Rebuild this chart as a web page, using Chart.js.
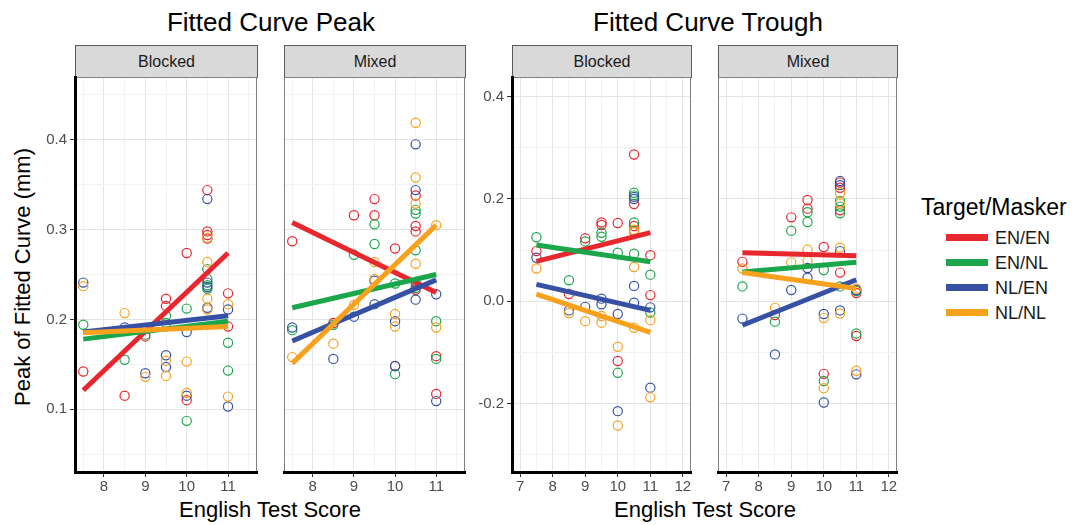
<!DOCTYPE html>
<html><head><meta charset="utf-8">
<script src="https://cdn.jsdelivr.net/npm/chart.js@4.4.1/dist/chart.umd.min.js"></script>
<style>
html,body{margin:0;padding:0;background:#fff;}
#wrap{position:relative;width:1073px;height:525px;overflow:hidden;font-family:"Liberation Sans",Arial,sans-serif;color:#000;}
.t{position:absolute;white-space:nowrap;transform:translate(-50%,-50%);line-height:1;}
.tl{position:absolute;white-space:nowrap;transform:translate(0,-50%);line-height:1;}
.strip{position:absolute;box-sizing:border-box;background:#d9d9d9;border:1px solid #5a5a5a;color:#1a1a1a;font-size:16px;display:flex;align-items:center;justify-content:center;}
.sw{position:absolute;height:7px;width:42px;}
canvas{position:absolute;}
</style></head><body><div id="wrap"></div>
<script>
// ---------- data ----------
const GROUPS = ['EN/EN', 'EN/NL', 'NL/EN', 'NL/NL'];
const STRIPS = ['Blocked', 'Mixed'];
const TITLES = ['Fitted Curve Peak', 'Fitted Curve Trough'];
const X_TITLE = 'English Test Score';
const Y_TITLE = 'Peak of Fitted Curve (mm)';
const LEGEND_TITLE = 'Target/Masker';

const PEAK_X_TICKS = ['8', '9', '10', '11'];
const PEAK_Y_TICKS = ['0.1', '0.2', '0.3', '0.4'];
const TROUGH_X_TICKS = ['7', '8', '9', '10', '11', '12'];
const TROUGH_Y_TICKS = ['-0.2', '0.0', '0.2', '0.4'];

const PEAK_X_RANGE = [7.3, 11.7];
const PEAK_Y_RANGE = [0.03, 0.47];
const TROUGH_X_RANGE = [6.75, 12.25];
const TROUGH_Y_RANGE = [-0.334, 0.4385];

const FIT_X = [7.5, 11];

// Peak, Blocked
const PB_ENEN = [[7.5,.142],[8.5,.115],[9,.181],[9.5,.223],[9.5,.215],[10,.274],[10,.110],[10.5,.344],[10.5,.298],[10.5,.294],[10.5,.290],[11,.229],[11,.192]];
const PB_ENNL = [[7.5,.194],[8.5,.155],[9,.183],[9.5,.204],[9.5,.196],[10,.212],[10,.087],[10.5,.256],[10.5,.245],[10.5,.238],[10.5,.234],[11,.174],[11,.143]];
const PB_NLEN = [[7.5,.241],[8.5,.191],[9,.140],[9.5,.160],[9.5,.147],[10,.186],[10,.115],[10.5,.334],[10.5,.241],[10.5,.236],[10.5,.213],[11,.211],[11,.103]];
const PB_NLNL = [[7.5,.237],[8.5,.207],[9,.136],[9.5,.154],[9.5,.137],[10,.153],[10,.118],[10.5,.291],[10.5,.264],[10.5,.223],[10.5,.211],[11,.217],[11,.114]];
const PB_FIT = [[0.121,0.274],[0.178,0.198],[0.186,0.204],[0.185,0.192]];

// Peak, Mixed
const PM_ENEN = [[7.5,.287],[8.5,.196],[9,.316],[9.5,.334],[9.5,.316],[10,.279],[10,.148],[10.5,.338],[10.5,.304],[10.5,.298],[10.5,.233],[11,.159],[11,.117]];
const PM_ENNL = [[7.5,.188],[8.5,.194],[9,.272],[9.5,.306],[9.5,.284],[10,.240],[10,.139],[10.5,.322],[10.5,.318],[10.5,.277],[10.5,.235],[11,.198],[11,.156]];
const PM_NLEN = [[7.5,.191],[8.5,.156],[9,.203],[9.5,.243],[9.5,.217],[10,.198],[10,.148],[10.5,.395],[10.5,.344],[10.5,.241],[10.5,.222],[11,.228],[11,.109]];
const PM_NLNL = [[7.5,.158],[8.5,.173],[9,.216],[9.5,.264],[9.5,.245],[10,.206],[10,.192],[10.5,.419],[10.5,.358],[10.5,.329],[10.5,.262],[11,.305],[11,.191]];
const PM_FIT = [[0.308,0.230],[0.213,0.250],[0.176,0.244],[0.151,0.305]];

// Trough, Blocked
const TB_ENEN = [[7.5,.098],[8.5,.014],[9,.123],[9.5,.154],[9.5,.149],[10,.153],[10,-.117],[10.5,.287],[10.5,.190],[10.5,.147],[10.5,.137],[11,.090],[11,.012]];
const TB_ENNL = [[7.5,.125],[8.5,.041],[9,.117],[9.5,.134],[9.5,.126],[10,.095],[10,-.140],[10.5,.212],[10.5,.207],[10.5,.154],[10.5,.093],[11,.052],[11,-.022]];
const TB_NLEN = [[7.5,.085],[8.5,-.018],[9,-.011],[9.5,.005],[9.5,-.006],[10,-.025],[10,-.215],[10.5,.204],[10.5,.200],[10.5,.030],[10.5,-.003],[11,-.012],[11,-.169]];
const TB_NLNL = [[7.5,.064],[8.5,-.023],[9,-.039],[9.5,-.029],[9.5,-.042],[10,-.089],[10,-.243],[10.5,.140],[10.5,.135],[10.5,.067],[10.5,-.052],[11,-.037],[11,-.188]];
const TB_FIT = [[0.078,0.134],[0.110,0.077],[0.033,-0.018],[0.014,-0.061]];

// Trough, Mixed
const TM_ENEN = [[7.5,.077],[8.5,-.027],[9,.164],[9.5,.198],[9.5,.181],[10,.106],[10,-.142],[10.5,.232],[10.5,.222],[10.5,.178],[10.5,.056],[11,.016],[11,-.068]];
const TM_ENNL = [[7.5,.029],[8.5,-.040],[9,.138],[9.5,.174],[9.5,.155],[10,.061],[10,-.156],[10.5,.196],[10.5,.185],[10.5,.172],[10.5,.029],[11,.020],[11,-.063]];
const TM_NLEN = [[7.5,-.034],[8.5,-.104],[9,.022],[9.5,.065],[9.5,.046],[10,-.025],[10,-.198],[10.5,.235],[10.5,.227],[10.5,.098],[10.5,-.018],[11,.022],[11,-.143]];
const TM_NLNL = [[7.5,.064],[8.5,-.013],[9,.076],[9.5,.101],[9.5,.079],[10,-.033],[10,-.170],[10.5,.212],[10.5,.191],[10.5,.105],[10.5,-.024],[11,.025],[11,-.136]];
const TM_FIT = [[0.095,0.089],[0.057,0.076],[-0.047,0.042],[0.056,0.025]];

// ---------- styles / layout ----------
const COLORS = ['#e8262d', '#1ca64b', '#3651a3', '#f7a11c'];
const FONT = '"Liberation Sans", Arial, sans-serif';
const TOP = 77, BOTTOM = 472;
const PANELS = [
  {left:75,  right:257, strip:0, xr:PEAK_X_RANGE,   yr:PEAK_Y_RANGE,   xt:PEAK_X_TICKS,   yt:PEAK_Y_TICKS,   yAxis:true,  pts:[PB_ENEN,PB_ENNL,PB_NLEN,PB_NLNL], fit:PB_FIT},
  {left:284, right:465, strip:1, xr:PEAK_X_RANGE,   yr:PEAK_Y_RANGE,   xt:PEAK_X_TICKS,   yt:PEAK_Y_TICKS,   yAxis:false, pts:[PM_ENEN,PM_ENNL,PM_NLEN,PM_NLNL], fit:PM_FIT},
  {left:512, right:691, strip:0, xr:TROUGH_X_RANGE, yr:TROUGH_Y_RANGE, xt:TROUGH_X_TICKS, yt:TROUGH_Y_TICKS, yAxis:true,  pts:[TB_ENEN,TB_ENNL,TB_NLEN,TB_NLNL], fit:TB_FIT},
  {left:718, right:897, strip:1, xr:TROUGH_X_RANGE, yr:TROUGH_Y_RANGE, xt:TROUGH_X_TICKS, yt:TROUGH_Y_TICKS, yAxis:false, pts:[TM_ENEN,TM_ENNL,TM_NLEN,TM_NLNL], fit:TM_FIT},
];

const wrap = document.getElementById('wrap');
function addText(cls, txt, x, y, size, extra) {
  const d = document.createElement('div');
  d.className = cls; d.textContent = txt;
  d.style.left = x + 'px'; d.style.top = y + 'px'; d.style.fontSize = size + 'px';
  if (extra) Object.assign(d.style, extra);
  wrap.appendChild(d); return d;
}

// titles
addText('t', TITLES[0], 271, 22, 26);
addText('t', TITLES[1], 708, 22, 26);
addText('t', X_TITLE, 270, 510, 22);
addText('t', X_TITLE, 705, 510, 22);
addText('t', Y_TITLE, 23, 277, 22, {transform:'translate(-50%,-50%) rotate(-90deg)'});

// legend
addText('tl', LEGEND_TITLE, 921, 207, 23);
GROUPS.forEach((g, i) => {
  const cy = 237.5 + i * 25;
  const s = document.createElement('div');
  s.className = 'sw'; s.style.left = '946px'; s.style.top = (cy - 3.5) + 'px'; s.style.background = COLORS[i];
  wrap.appendChild(s);
  addText('tl', g, 995, cy, 18, {color:'#1a1a1a'});
});

// strips
PANELS.forEach(p => {
  const s = document.createElement('div');
  s.className = 'strip'; s.textContent = STRIPS[p.strip];
  s.style.left = p.left + 'px'; s.style.top = '45px';
  s.style.width = (p.right - p.left + 1) + 'px'; s.style.height = '33px';
  wrap.appendChild(s);
});

function tickSet(labels, lo, hi) {
  const m0 = Number(labels[0]), half = (Number(labels[1]) - m0) / 2;
  const out = [];
  for (let k = -20; k <= 40; k++) {
    const v = +(m0 + k * half).toFixed(6);
    if (v < lo - 1e-9 || v > hi + 1e-9) continue;
    const isMajor = k >= 0 && k % 2 === 0 && k / 2 < labels.length;
    out.push({value: v, major: isMajor, label: isMajor ? labels[k / 2] : ''});
  }
  return out;
}

const framePlugin = {
  id: 'frame',
  afterDatasetsDraw(chart) {
    const a = chart.chartArea, ctx = chart.ctx;
    ctx.save();
    ctx.strokeStyle = '#808080'; ctx.lineWidth = 1;
    ctx.strokeRect(a.left + 0.5, a.top + 0.5, a.right - a.left - 1, a.bottom - a.top - 1);
    ctx.restore();
  }
};

function scaleCfg(ticks, range, showLabels, showBorder, fitSize, horizontal) {
  const find = v => ticks.find(t => Math.abs(t.value - v) < 1e-7);
  const maj = v => { const t = find(v); return t ? t.major : false; };
  return {
    type: 'linear', min: range[0], max: range[1],
    afterBuildTicks: s => { s.ticks = ticks.map(t => ({value: t.value})); },
    afterFit: s => { if (horizontal) s.height = fitSize; else s.width = fitSize; },
    ticks: {
      display: showLabels, autoSkip: false, maxRotation: 0, minRotation: 0,
      color: '#4d4d4d', font: {family: FONT, size: 15}, padding: horizontal ? 1 : 3,
      callback: v => { const t = find(v); return t ? t.label : ''; }
    },
    grid: {
      color: c => (c.tick && maj(c.tick.value)) ? '#e4e4e4' : '#f2f2f2',
      lineWidth: 1,
      drawTicks: showLabels, tickLength: 5, tickWidth: 1,
      tickColor: c => (c.tick && maj(c.tick.value)) ? '#333333' : 'rgba(0,0,0,0)'
    },
    border: {display: showBorder, color: '#000', width: 3, z: 1}
  };
}

PANELS.forEach(p => {
  const yW = p.yAxis ? 55 : 6, padR = 16, padT = 20, xH = 35;
  const w = (p.right - p.left) + yW + padR;
  const h = (BOTTOM - TOP) + padT + xH;
  const cv = document.createElement('canvas');
  cv.width = w; cv.height = h;
  cv.style.left = (p.left - yW) + 'px'; cv.style.top = (TOP - padT) + 'px';
  cv.style.width = w + 'px'; cv.style.height = h + 'px';
  wrap.appendChild(cv);

  const ds = [];
  for (let g = 3; g >= 0; g--) {
    ds.push({
      label: GROUPS[g] + ' fit',
      data: FIT_X.map((x, i) => ({x: x, y: p.fit[g][i]})),
      showLine: true, borderColor: COLORS[g], backgroundColor: COLORS[g],
      borderWidth: 5, pointRadius: 0, pointHoverRadius: 0, fill: false, borderCapStyle: 'butt'
    });
  }
  for (let g = 3; g >= 0; g--) {
    ds.push({
      label: GROUPS[g],
      data: p.pts[g].map(([x, y]) => ({x: x, y: y})),
      showLine: false, pointStyle: 'circle', pointRadius: 4.6, pointBorderWidth: 1.2,
      pointBackgroundColor: 'rgba(0,0,0,0)', backgroundColor: 'rgba(0,0,0,0)',
      pointBorderColor: COLORS[g], borderColor: COLORS[g]
    });
  }

  new Chart(cv, {
    type: 'scatter',
    data: {datasets: ds},
    plugins: [framePlugin],
    options: {
      responsive: false, animation: false, devicePixelRatio: 1, events: [],
      layout: {padding: {left: 0, right: padR, top: padT, bottom: 0}},
      plugins: {legend: {display: false}, tooltip: {enabled: false}},
      scales: {
        x: Object.assign({position: 'bottom'}, scaleCfg(tickSet(p.xt, p.xr[0], p.xr[1]), p.xr, true, true, xH, true)),
        y: Object.assign({position: 'left'}, scaleCfg(tickSet(p.yt, p.yr[0], p.yr[1]), p.yr, p.yAxis, p.yAxis, yW, false))
      }
    }
  });
});
</script>
</body></html>
